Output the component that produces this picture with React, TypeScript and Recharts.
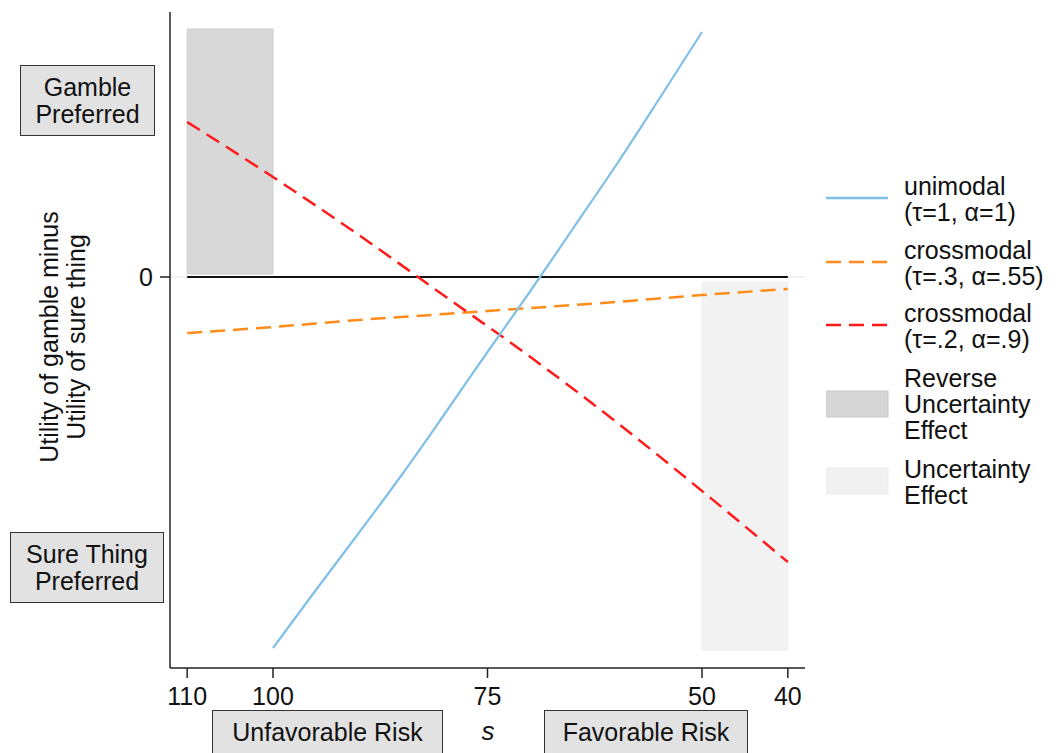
import { LineChart, Line, XAxis, YAxis, ReferenceArea, ReferenceLine, Legend } from "recharts";

const FONT = "'Liberation Sans', Arial, Helvetica, sans-serif";

// x axis is s, drawn from 110 (left) down to 40 (right)
const xTicks = [110, 100, 75, 50, 40];
const yTicks = [0];

const unimodalS = [100, 95, 90, 85, 80, 75, 70, 65, 60, 55, 50];
const unimodalU = [-3.71, -3.13, -2.56, -1.98, -1.37, -0.75, -0.14, 0.49, 1.12, 1.78, 2.45];

const crossS = [110, 100, 90, 80, 70, 60, 50, 40];
const crossAU = [-0.56, -0.5, -0.43, -0.37, -0.31, -0.25, -0.18, -0.12]; // tau=.3, alpha=.55
const crossBU = [1.55, 1.0, 0.42, -0.19, -0.8, -1.45, -2.14, -2.85]; // tau=.2, alpha=.9

const reverseRegion = { s1: 110, s2: 100, u1: 0.03, u2: 2.48 };
const uncertaintyRegion = { s1: 50, s2: 40, u1: -0.05, u2: -3.73 };

const toRows = (s: number[], u: number[]) => s.map((v, i) => ({ s: v, u: u[i] }));

const unimodal = toRows(unimodalS, unimodalU);
const crossA = toRows(crossS, crossAU);
const crossB = toRows(crossS, crossBU);

const legendItems = [
  { kind: "line", color: "#80bfe9", dash: undefined, lines: ["unimodal", "(τ=1, α=1)"] },
  { kind: "line", color: "#ff8c1a", dash: "15 8", lines: ["crossmodal", "(τ=.3, α=.55)"] },
  { kind: "line", color: "#ff1a1a", dash: "15 8", lines: ["crossmodal", "(τ=.2, α=.9)"] },
  { kind: "rect", color: "#d6d6d6", dash: undefined, lines: ["Reverse", "Uncertainty", "Effect"] },
  { kind: "rect", color: "#f1f1f1", dash: undefined, lines: ["Uncertainty", "Effect"] },
];

const boxStyle: React.CSSProperties = {
  position: "absolute",
  background: "#e2e2e2",
  border: "1.5px solid #333",
  boxSizing: "border-box",
  fontFamily: FONT,
  fontSize: 25,
  lineHeight: "27px",
  color: "#111",
  textAlign: "center",
  display: "flex",
  flexDirection: "column",
  justifyContent: "center",
};

function ChartLegend() {
  // sample marker centres, relative to legend top
  const centers = [38, 102, 165, 244, 321];
  return (
    <svg width={231} height={360} style={{ fontFamily: FONT }}>
      {legendItems.map((it, i) => {
        const cy = centers[i];
        const n = it.lines.length;
        const first = n === 3 ? cy - 17 : cy - 3;
        return (
          <g key={i}>
            {it.kind === "line" ? (
              <line x1={0} x2={62} y1={cy} y2={cy} stroke={it.color} strokeWidth={2.5} strokeDasharray={it.dash} />
            ) : (
              <rect x={0} y={cy - 13} width={62} height={26} fill={it.color} stroke={i === 3 ? "#cacaca" : "#ececec"} />
            )}
            {it.lines.map((t, j) => (
              <text key={j} x={78} y={first + j * 26} fontSize={25} fill="#111">
                {t}
              </text>
            ))}
          </g>
        );
      })}
    </svg>
  );
}

export default function App() {
  return (
    <div style={{ position: "absolute", left: 0, top: 0, width: 1057, height: 753, overflow: "hidden", background: "#fff" }}>
      <LineChart width={1057} height={753} margin={{ top: 12, right: 252, bottom: 45, left: 110 }}>
        <XAxis
          type="number"
          dataKey="s"
          domain={[38, 112]}
          reversed
          ticks={xTicks}
          height={40}
          tickSize={10}
          tickMargin={9}
          stroke="#222"
          strokeWidth={1.5}
          tick={{ fontSize: 25, fill: "#111", fontFamily: FONT }}
        />
        <YAxis
          type="number"
          domain={[-3.91, 2.65]}
          ticks={yTicks}
          width={60}
          tickSize={10}
          tickMargin={7}
          stroke="#222"
          strokeWidth={1.5}
          tick={{ fontSize: 25, fill: "#111", fontFamily: FONT }}
        />
        <ReferenceArea
          x1={reverseRegion.s1}
          x2={reverseRegion.s2}
          y1={reverseRegion.u1}
          y2={reverseRegion.u2}
          fill="#d8d8d8"
          fillOpacity={1}
          stroke="#cdcdcd"
          ifOverflow="visible"
        />
        <ReferenceArea
          x1={uncertaintyRegion.s1}
          x2={uncertaintyRegion.s2}
          y1={uncertaintyRegion.u1}
          y2={uncertaintyRegion.u2}
          fill="#f2f2f2"
          fillOpacity={1}
          stroke="#ededed"
          ifOverflow="visible"
        />
        <ReferenceLine y={0} stroke="#ececec" strokeWidth={1.5} />
        <ReferenceLine
          segment={[
            { x: 110, y: 0 },
            { x: 40, y: 0 },
          ]}
          stroke="#111"
          strokeWidth={2}
        />
        <Line data={crossA} dataKey="u" type="monotone" stroke="#ff8c1a" strokeWidth={2.5} strokeDasharray="15 8" dot={false} activeDot={false} isAnimationActive={false} />
        <Line data={crossB} dataKey="u" type="monotone" stroke="#ff1a1a" strokeWidth={2.5} strokeDasharray="15 8" dot={false} activeDot={false} isAnimationActive={false} />
        <Line data={unimodal} dataKey="u" type="monotone" stroke="#80bfe9" strokeWidth={2.2} dot={false} activeDot={false} isAnimationActive={false} />
        <Legend
          layout="horizontal"
          align="center"
          verticalAlign="middle"
          content={() => <ChartLegend />}
          wrapperStyle={{ left: 826, top: 160, width: 231, height: 360 }}
        />
      </LineChart>

      {/* y axis title */}
      <div
        style={{
          position: "absolute",
          left: 63 - 200,
          top: 337 - 27,
          width: 400,
          height: 54,
          transform: "rotate(-90deg)",
          fontFamily: FONT,
          fontSize: 25,
          lineHeight: "27px",
          color: "#111",
          textAlign: "center",
        }}
      >
        <div>Utility of gamble minus</div>
        <div>Utility of sure thing</div>
      </div>

      <div style={{ ...boxStyle, left: 20, top: 65, width: 135, height: 71 }}>
        <div>Gamble</div>
        <div>Preferred</div>
      </div>
      <div style={{ ...boxStyle, left: 10, top: 532, width: 154, height: 71 }}>
        <div>Sure Thing</div>
        <div>Preferred</div>
      </div>

      <div style={{ ...boxStyle, left: 212, top: 710, width: 231, height: 44 }}>Unfavorable Risk</div>
      <div
        style={{
          position: "absolute",
          left: 468,
          top: 716,
          width: 40,
          textAlign: "center",
          fontFamily: FONT,
          fontStyle: "italic",
          fontSize: 26,
          color: "#111",
        }}
      >
        s
      </div>
      <div style={{ ...boxStyle, left: 544, top: 710, width: 204, height: 44 }}>Favorable Risk</div>
    </div>
  );
}
